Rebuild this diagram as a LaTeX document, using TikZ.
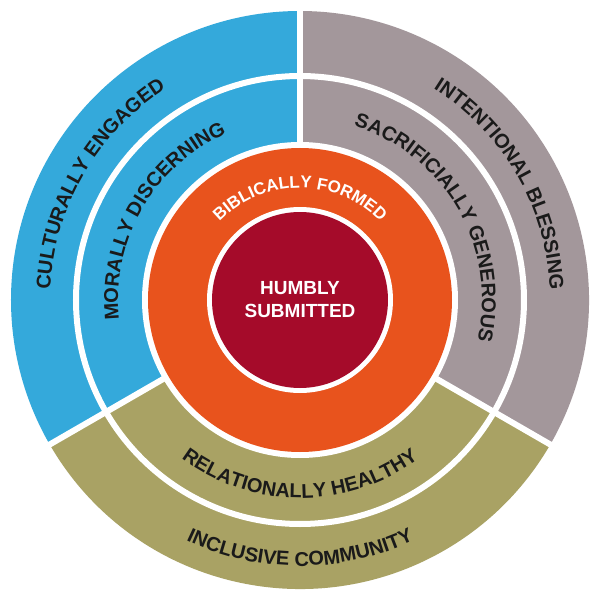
\documentclass[tikz,border=0pt]{standalone}
\usepackage{fontspec}
\setmainfont{Liberation Sans}
\usetikzlibrary{positioning, decorations.text}
\definecolor{ringblue}{HTML}{34A9DB}
\definecolor{ringgray}{HTML}{A3979B}
\definecolor{ringolive}{HTML}{A9A264}
\definecolor{ringorange}{HTML}{E8531D}
\definecolor{ringred}{HTML}{A50B2A}
\definecolor{labeldark}{HTML}{1A1A1A}
\tikzset{
    arclabel/.style={decorate, decoration={text along path, text align=center,
        text color=labeldark, text={|\fontsize{20}{20}\bfseries|#1}}},
    gap/.style={white, line width=6pt}
}
\begin{document}
\begin{tikzpicture}[x=1pt, y=1pt]
        \useasboundingbox (-300,-300) rectangle (300,300);
        \fill[white] (-300,-300) rectangle (300,300);
        % sectors
        \fill[white] (0,0) circle (295);
        \fill[ringblue] (0,0) -- (90:289) arc[start angle=90, end angle=210, radius=289] -- cycle;
        \fill[ringolive] (0,0) -- (210:289) arc[start angle=210, end angle=330, radius=289] -- cycle;
        \fill[ringgray] (0,0) -- (330:289) arc[start angle=330, end angle=450, radius=289] -- cycle;
        \foreach \a in {90, 210, 330}
            \draw[gap] (0,0) -- (\a:295);
        \draw[gap] (0,0) circle (224);
        \fill[white] (0,0) circle (158);
        \fill[ringorange] (0,0) circle (152);
        \fill[white] (0,0) circle (93);
        \node[circle, fill=ringred, minimum size=176pt, inner sep=0pt, align=center,
              text=white, font=\fontsize{19}{23}\bfseries] (core) at (0,0) {HUMBLY\\SUBMITTED};

        % labels on the rings
        \path[arclabel={CULTURALLY ENGAGED}] (205:250) arc[start angle=205, end angle=95, radius=250];
        \path[arclabel={INTENTIONAL BLESSING}] (85:250) arc[start angle=85, end angle=-25, radius=250];
        \path[arclabel={MORALLY DISCERNING}] (210:182) arc[start angle=210, end angle=90, radius=182];
        \path[arclabel={SACRIFICIALLY GENEROUS}] (90:182) arc[start angle=90, end angle=-30, radius=182];
        \path[arclabel={RELATIONALLY HEALTHY}] (210:198) arc[start angle=210, end angle=330, radius=198];
        \path[arclabel={INCLUSIVE COMMUNITY}] (215:266) arc[start angle=215, end angle=325, radius=266];
        \path[decorate, decoration={text along path, text align=center, text color=white,
              text={|\fontsize{17}{17}\bfseries|BIBLICALLY FORMED}}]
            (160:112) arc[start angle=160, end angle=20, radius=112];
    \end{tikzpicture}
\end{document}
